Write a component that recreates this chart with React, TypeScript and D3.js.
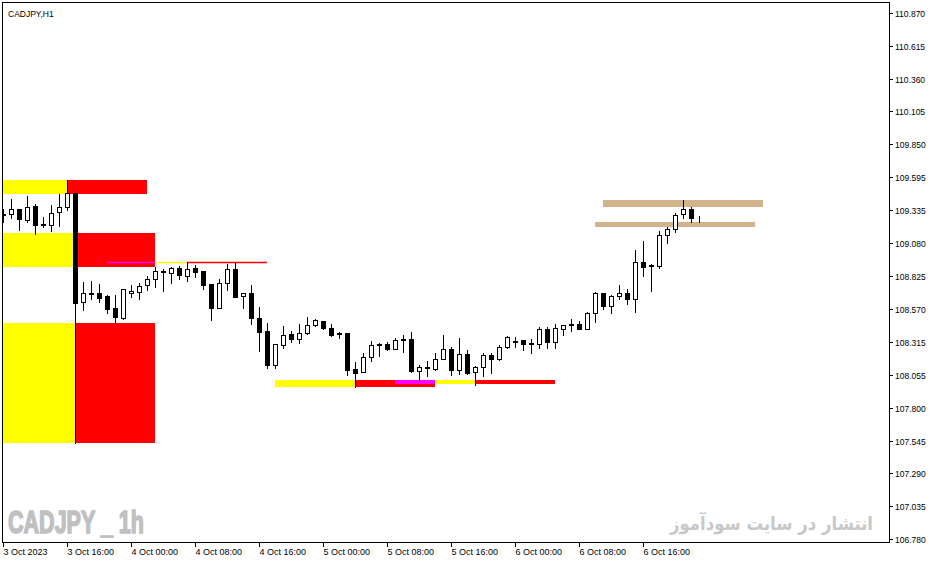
import { FC, useEffect, useRef } from 'react';
import * as d3 from 'd3';

// hourly CADJPY bars, index 0 = 3 Oct 08:00
const opens = [
  109.307, 109.309, 109.344, 109.263, 109.369, 109.229, 109.219, 109.32, 109.359, 109.468,
  108.62, 108.69, 108.693, 108.669, 108.576, 108.501, 108.69, 108.7, 108.755, 108.802,
  108.856, 108.851, 108.885, 108.827, 108.885, 108.864, 108.76, 108.578, 108.768, 108.877,
  108.667, 108.69, 108.501, 108.397, 108.135, 108.291, 108.374, 108.337, 108.378, 108.442,
  108.472, 108.418, 108.379, 108.382, 108.099, 108.081, 108.197, 108.291, 108.294, 108.26,
  108.327, 108.333, 108.089, 108.112, 108.099, 108.182, 108.255, 108.094, 108.218, 108.076,
  108.115, 108.211, 108.182, 108.271, 108.312, 108.325, 108.298, 108.298, 108.413, 108.314,
  108.41, 108.452, 108.452, 108.415, 108.535, 108.69, 108.589, 108.667, 108.693, 108.644,
  108.934, 108.908, 108.903, 109.141, 109.188, 109.305, 109.344, 109.271,
];
const highs = [
  109.344, 109.424, 109.348, 109.445, 109.382, 109.281, 109.377, 109.463, 109.571, 109.47,
  108.778, 108.784, 108.763, 108.677, 108.677, 108.724, 108.755, 108.77, 108.825, 108.895,
  108.879, 108.893, 108.903, 108.931, 108.91, 108.866, 108.763, 108.802, 108.918, 108.931,
  108.692, 108.755, 108.586, 108.459, 108.294, 108.436, 108.397, 108.452, 108.506, 108.491,
  108.475, 108.452, 108.389, 108.384, 108.156, 108.224, 108.322, 108.306, 108.314, 108.34,
  108.366, 108.387, 108.131, 108.162, 108.229, 108.366, 108.271, 108.343, 108.25, 108.125,
  108.226, 108.229, 108.288, 108.361, 108.353, 108.327, 108.333, 108.431, 108.431, 108.452,
  108.444, 108.491, 108.475, 108.543, 108.698, 108.692, 108.677, 108.755, 108.724, 109.027,
  109.097, 108.916, 109.175, 109.204, 109.312, 109.416, 109.359, 109.289,
];
const lows = [
  109.247, 109.278, 109.185, 109.247, 109.154, 109.208, 109.177, 109.216, 109.34, 107.526,
  108.563, 108.648, 108.625, 108.54, 108.457, 108.488, 108.664, 108.648, 108.718, 108.742,
  108.711, 108.773, 108.799, 108.786, 108.817, 108.726, 108.483, 108.576, 108.716, 108.662,
  108.574, 108.449, 108.244, 108.112, 108.112, 108.267, 108.314, 108.306, 108.376, 108.436,
  108.41, 108.358, 108.34, 108.053, 107.959, 108.078, 108.166, 108.205, 108.25, 108.257,
  108.236, 108.081, 108.011, 108.045, 108.096, 108.18, 108.057, 108.063, 108.062, 107.977,
  108.05, 108.073, 108.172, 108.269, 108.275, 108.252, 108.224, 108.265, 108.267, 108.267,
  108.369, 108.4, 108.413, 108.413, 108.467, 108.571, 108.535, 108.648, 108.61, 108.547,
  108.827, 108.711, 108.889, 109.079, 109.165, 109.278, 109.242, 109.242,
];
const closes = [
  109.303, 109.344, 109.271, 109.359, 109.224, 109.221, 109.312, 109.359, 109.468, 108.617,
  108.69, 108.685, 108.656, 108.571, 108.504, 108.722, 108.711, 108.747, 108.799, 108.861,
  108.861, 108.885, 108.83, 108.877, 108.858, 108.757, 108.578, 108.768, 108.877, 108.664,
  108.69, 108.501, 108.392, 108.135, 108.294, 108.366, 108.337, 108.382, 108.442, 108.48,
  108.418, 108.364, 108.374, 108.094, 108.073, 108.197, 108.288, 108.296, 108.26, 108.325,
  108.333, 108.086, 108.115, 108.117, 108.182, 108.255, 108.096, 108.218, 108.073, 108.115,
  108.208, 108.177, 108.271, 108.353, 108.317, 108.298, 108.304, 108.413, 108.314, 108.418,
  108.442, 108.446, 108.415, 108.535, 108.69, 108.594, 108.667, 108.69, 108.644, 108.931,
  108.897, 108.903, 109.141, 109.188, 109.297, 109.344, 109.274, 109.266,
];

const priceTicks = [
  '110.870', '110.615', '110.360', '110.105', '109.850', '109.595', '109.335', '109.080',
  '108.825', '108.570', '108.315', '108.055', '107.800', '107.545', '107.290', '107.035', '106.780',
];
const timeTicks = [0, 8, 16, 24, 32, 40, 48, 56, 64, 72, 80];
const timeLabels = [
  '3 Oct 2023', '3 Oct 16:00', '4 Oct 00:00', '4 Oct 08:00', '4 Oct 16:00', '5 Oct 00:00',
  '5 Oct 08:00', '5 Oct 16:00', '6 Oct 00:00', '6 Oct 08:00', '6 Oct 16:00',
];

// supply / demand boxes: [fromBar, toBar, top, bottom, kind]
const zones: [number, number, number, number, string][] = [
  [-1, 8, 109.571, 109.466, 'y'],
  [8, 18, 109.571, 109.466, 'r'],
  [-1, 9, 109.162, 108.897, 'y'],
  [9, 19, 109.162, 108.897, 'r'],
  [-1, 9, 108.459, 107.526, 'y'],
  [9, 19, 108.459, 107.526, 'r'],
  [34, 44, 108.017, 107.963, 'y'],
  [44, 54, 108.017, 107.963, 'r'],
  [49, 54, 108.017, 107.985, 'm'],
  [54, 59, 108.017, 107.985, 'y'],
  [59, 69, 108.017, 107.985, 'r'],
  [75, 95, 109.416, 109.362, 't'],
  [74, 94, 109.245, 109.203, 't'],
];
// level lines: [fromBar, toBar, price, kind]
const levels: [number, number, number, string][] = [
  [13, 19, 108.934, 'm'],
  [19, 23, 108.934, 'y'],
  [23, 33, 108.934, 'r'],
];

const colors: Record<string, string> = {
  y: '#FFFF00',
  r: '#FF0000',
  m: '#FF00FF',
  t: '#D2B48C',
};

const App: FC = () => {
  const chartRef = useRef<SVGSVGElement>(null);

  useEffect(() => {
    const width = 935;
    const height = 563;
    const plot = { left: 2, top: 2, right: 889, bottom: 542 };

    const svg = d3.select(chartRef.current);
    svg.selectAll('*').remove();
    svg.append('rect').attr('width', width).attr('height', height).attr('fill', '#fff');

    const x = d3.scaleLinear().domain([0, 87]).range([3, 699]);
    const y = d3.scaleLinear().domain([106.78, 110.87]).range([539, 13]);

    svg
      .append('clipPath')
      .attr('id', 'plot')
      .append('rect')
      .attr('x', plot.left + 1)
      .attr('y', plot.top + 1)
      .attr('width', plot.right - plot.left - 1)
      .attr('height', plot.bottom - plot.top - 1);

    const g = svg.append('g').attr('clip-path', 'url(#plot)');

    // zones
    g.selectAll('rect.zone')
      .data(zones)
      .enter()
      .append('rect')
      .attr('class', 'zone')
      .attr('x', (d) => x(d[0]))
      .attr('y', (d) => Math.round(y(d[2])))
      .attr('width', (d) => x(d[1]) - x(d[0]))
      .attr('height', (d) => Math.round(y(d[3])) - Math.round(y(d[2])))
      .attr('fill', (d) => colors[d[4]]);

    g.selectAll('line.level')
      .data(levels)
      .enter()
      .append('line')
      .attr('x1', (d) => x(d[0]))
      .attr('x2', (d) => x(d[1]))
      .attr('y1', (d) => Math.round(y(d[2])) + 0.5)
      .attr('y2', (d) => Math.round(y(d[2])) + 0.5)
      .attr('stroke', (d) => colors[d[3]])
      .attr('stroke-width', 1.5);

    // candles
    const bars = d3.range(opens.length);
    const candle = g.selectAll('g.candle').data(bars).enter().append('g');

    candle
      .append('line')
      .attr('x1', (i) => x(i) + 0.5)
      .attr('x2', (i) => x(i) + 0.5)
      .attr('y1', (i) => Math.round(y(highs[i])))
      .attr('y2', (i) => Math.round(y(lows[i])) + 1)
      .attr('stroke', '#000')
      .attr('stroke-width', 1);

    candle
      .append('rect')
      .attr('x', (i) => x(i) - 1.5)
      .attr('y', (i) => Math.round(y(Math.max(opens[i], closes[i]))) + 0.5)
      .attr('width', 4)
      .attr('height', (i) =>
        Math.max(0, Math.round(y(Math.min(opens[i], closes[i]))) - Math.round(y(Math.max(opens[i], closes[i]))))
      )
      .attr('fill', (i) => (closes[i] >= opens[i] ? '#fff' : '#000'))
      .attr('stroke', '#000')
      .attr('stroke-width', 1);

    // frame
    svg
      .append('rect')
      .attr('x', plot.left + 0.5)
      .attr('y', plot.top + 0.5)
      .attr('width', plot.right - plot.left)
      .attr('height', plot.bottom - plot.top)
      .attr('fill', 'none')
      .attr('stroke', '#000');

    const font = "Tahoma, 'Liberation Sans', Arial, sans-serif";

    // price axis
    const py = svg.append('g');
    priceTicks.forEach((t) => {
      const yy = Math.round(y(+t)) + 0.5;
      py.append('line')
        .attr('x1', plot.right + 0.5)
        .attr('x2', plot.right + 4)
        .attr('y1', yy)
        .attr('y2', yy)
        .attr('stroke', '#000');
      py.append('text')
        .attr('x', plot.right + 6)
        .attr('y', yy + 3)
        .attr('font-family', font)
        .attr('font-size', 8.5)
        .attr('fill', '#000')
        .text(t);
    });

    // time axis
    const tx = svg.append('g');
    timeTicks.forEach((b, i) => {
      const xx = x(b) + 0.5;
      tx.append('line')
        .attr('x1', xx)
        .attr('x2', xx)
        .attr('y1', plot.bottom + 0.5)
        .attr('y2', plot.bottom + 5)
        .attr('stroke', '#000');
      tx.append('text')
        .attr('x', xx)
        .attr('y', 555)
        .attr('font-family', font)
        .attr('font-size', 9)
        .attr('fill', '#000')
        .text(timeLabels[i]);
    });

    // captions
    svg
      .append('text')
      .attr('x', 8)
      .attr('y', 16.5)
      .attr('font-family', font)
      .attr('font-size', 8.5)
      .attr('fill', '#000')
      .text('CADJPY,H1');

    svg
      .append('text')
      .attr('x', 8)
      .attr('y', 533)
      .attr('font-family', "'Liberation Sans', Arial, sans-serif")
      .attr('font-weight', 'bold')
      .attr('font-size', 31)
      .attr('fill', '#C0C0C0')
      .attr('stroke', '#C0C0C0')
      .attr('stroke-width', 1.6)
      .attr('textLength', 136)
      .attr('lengthAdjust', 'spacingAndGlyphs')
      .text('CADJPY _ 1h');

    svg
      .append('text')
      .attr('x', 873)
      .attr('y', 530)
      .attr('text-anchor', 'end')
      .attr('font-family', "'DejaVu Sans', sans-serif")
      .attr('font-weight', 'bold')
      .attr('font-size', 19)
      .attr('fill', '#C8C8C8')
      .attr('textLength', 203)
      .attr('lengthAdjust', 'spacingAndGlyphs')
      .text('انتشار در سایت سودآموز');
  }, []);

  return (
    <svg
      ref={chartRef}
      width={935}
      height={563}
      style={{ position: 'absolute', left: 0, top: 0, display: 'block' }}
    />
  );
};

export default App;
